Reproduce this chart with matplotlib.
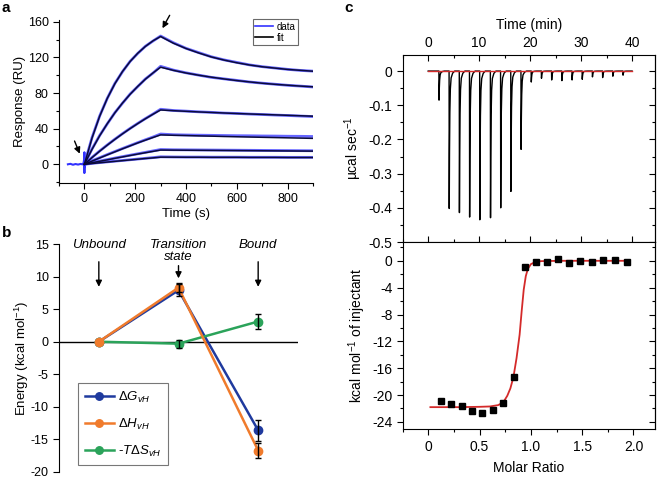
import matplotlib
matplotlib.use("Agg")
import matplotlib.pyplot as plt
from matplotlib.ticker import MultipleLocator
from matplotlib.lines import Line2D

plt.rcParams['font.family'] = ['Liberation Sans', 'DejaVu Sans']
plt.rcParams['axes.unicode_minus'] = False
plt.rcParams['mathtext.fontset'] = 'custom'
plt.rcParams['mathtext.rm'] = 'Liberation Sans'
plt.rcParams['mathtext.it'] = 'Liberation Sans:italic'

# ---------------- Panel a data (SPR sensorgrams) ----------------
t_assoc = [0, 30, 60, 90, 120, 150, 180, 210, 240, 270, 300]
t_dissoc = [300, 350, 400, 450, 500, 550, 600, 650, 700, 750, 800, 850, 900]
fit_assoc = [
    [0, 29.5, 53.9, 74.0, 90.5, 104.2, 115.4, 124.7, 132.3, 138.6, 143.5],
    [0, 16.8, 32.0, 45.6, 57.8, 68.8, 78.6, 87.5, 95.5, 102.6, 109.0],
    [0, 7.5, 14.7, 21.5, 28.0, 34.2, 40.1, 45.7, 51.1, 56.2, 61.0],
    [0, 3.6, 7.1, 10.6, 14.0, 17.4, 20.7, 24.0, 27.1, 30.1, 33.0],
    [0, 1.7, 3.4, 5.0, 6.7, 8.3, 9.9, 11.5, 13.0, 14.5, 16.0],
    [0, 0.85, 1.7, 2.5, 3.3, 4.1, 4.9, 5.7, 6.5, 7.2, 8.0],
]
fit_dissoc = [
    [143.5, 136, 130, 125, 120.5, 117, 114, 111.5, 109.5, 108, 106.5, 105.5, 104.5],
    [109, 105.5, 102.5, 100, 97.8, 95.8, 94, 92.5, 91, 89.8, 88.8, 87.8, 87],
    [61, 60.2, 59.5, 58.8, 58.2, 57.6, 57, 56.5, 56, 55.5, 55, 54.5, 54],
    [33, 32.6, 32.3, 31.9, 31.6, 31.2, 30.9, 30.6, 30.3, 30, 29.7, 29.4, 29.1],
    [16, 15.9, 15.8, 15.7, 15.6, 15.5, 15.4, 15.3, 15.2, 15.1, 15.0, 14.9, 14.8],
    [8, 8, 7.9, 7.9, 7.8, 7.8, 7.8, 7.7, 7.7, 7.7, 7.6, 7.6, 7.6],
]
data_assoc = [
    [0, 30.0, 54.2, 74.0, 90.8, 104.0, 115.6, 124.5, 132.5, 138.4, 144.0],
    [0, 17.2, 32.3, 45.4, 58.0, 68.6, 78.9, 87.3, 95.8, 102.4, 110.0],
    [0, 7.8, 14.9, 21.7, 28.2, 34.4, 40.3, 45.9, 51.3, 56.4, 61.8],
    [0, 3.9, 7.4, 10.9, 14.3, 17.7, 21.0, 24.3, 27.5, 30.6, 34.0],
    [0, 1.9, 3.6, 5.3, 7.0, 8.6, 10.2, 11.8, 13.4, 15.0, 16.6],
    [0, 1.0, 1.9, 2.7, 3.5, 4.3, 5.1, 5.9, 6.7, 7.5, 8.4],
]
data_dissoc = [
    [144.0, 136.5, 130.2, 125.4, 120.7, 117.2, 114.4, 111.6, 109.6, 108.1, 106.6, 105.4, 104.6],
    [110.0, 105.8, 102.7, 100.1, 97.6, 95.9, 94.2, 92.4, 91.1, 89.9, 88.7, 87.8, 86.8],
    [61.8, 60.4, 59.7, 58.9, 58.3, 57.5, 57.1, 56.4, 55.9, 55.3, 54.8, 54.2, 53.6],
    [34.0, 33.2, 32.9, 32.7, 32.5, 32.3, 32.1, 32.0, 31.8, 31.7, 31.5, 31.4, 31.2],
    [16.6, 16.3, 16.2, 16.1, 16.0, 15.9, 15.8, 15.7, 15.6, 15.5, 15.4, 15.3, 15.2],
    [8.4, 8.2, 8.1, 8.1, 8.0, 8.0, 8.0, 7.9, 7.9, 7.9, 7.8, 7.8, 7.8],
]
t_base = [-65, -55, -45, -35, -25, -15, -8, -3, -1, 0, 0, 0, 1, 3]
r_base = [0, 0.5, -0.5, 0.3, -0.3, 0.4, 0, 1.5, 6, 13.5, -9.5, 6, -3, 1]

# ---------------- Panel b data (energy diagram) ----------------
states = ['Unbound', 'Transition\nstate', 'Bound']
dG = [0, 7.9, -13.6]
dG_err = [0, 0.9, 1.6]
dH = [0, 8.3, -16.7]
dH_err = [0, 0.7, 1.1]
TdS = [0, -0.3, 3.1]
TdS_err = [0, 0.6, 1.2]

# ---------------- Panel c data (ITC) ----------------
inj_time = [2.1, 4.1, 6.1, 8.1, 10.1, 12.2, 14.2, 16.2, 18.2, 20.2,
            22.2, 24.2, 26.2, 28.2, 30.2, 32.2, 34.2, 36.2, 38.2]
inj_depth = [-0.085, -0.402, -0.414, -0.427, -0.435, -0.429, -0.400, -0.352, -0.229,
             -0.032, -0.021, -0.026, -0.028, -0.026, -0.024, -0.017, -0.019, -0.015, -0.012]
molar_ratio = [0.124, 0.221, 0.325, 0.423, 0.527, 0.628, 0.728, 0.832, 0.943,
               1.047, 1.154, 1.265, 1.372, 1.48, 1.593, 1.707, 1.821, 1.935]
heat = [-20.87, -21.26, -21.6, -22.3, -22.6, -22.2, -21.2, -17.3, -0.95,
        -0.15, -0.25, 0.25, -0.35, 0.0, -0.15, 0.1, 0.15, -0.2]
fit_x = [0.02, 0.3, 0.5, 0.6, 0.68, 0.73, 0.77, 0.80, 0.83, 0.86, 0.89, 0.91,
         0.93, 0.95, 0.97, 1.0, 1.04, 1.1, 1.3, 1.95]
fit_y = [-21.8, -21.8, -21.75, -21.7, -21.5, -21.1, -20.1, -19.0, -17.3, -14.5, -11.0, -7.5,
         -4.3, -2.3, -1.2, -0.5, -0.2, -0.05, 0, 0]
# peak shape template (offset in min, fraction of depth)
peak_dt = [0, 0.03, 0.08, 0.15, 0.25, 0.4, 0.7, 1.1]
peak_frac = [0, 1.0, 0.6, 0.3, 0.13, 0.05, 0.015, 0]

W, H = 658, 480
fig = plt.figure(figsize=(W / 100, H / 100), dpi=100)


def rect(x0, y0, x1, y1):
    return [x0 / W, 1 - y1 / H, (x1 - x0) / W, (y1 - y0) / H]


# ================= Panel a =================
axa = fig.add_axes(rect(59, 20, 313, 183))
data_col = '#3333ff'
for i in range(6):
    axa.plot(t_assoc + t_dissoc[1:], data_assoc[i] + data_dissoc[i][1:],
             color=data_col, lw=2.0, alpha=0.75, zorder=2)
axa.plot(t_base, r_base, color=data_col, lw=1.5, zorder=2)
for i in range(6):
    axa.plot(t_assoc + t_dissoc[1:], fit_assoc[i] + fit_dissoc[i][1:],
             color='#0a0a3a', lw=1.1, zorder=3)
axa.set_xlim(-100, 900)
axa.set_ylim(-21, 162)
axa.spines['top'].set_visible(False)
axa.spines['right'].set_visible(False)
axa.xaxis.set_major_locator(MultipleLocator(200))
axa.xaxis.set_minor_locator(MultipleLocator(100))
axa.yaxis.set_major_locator(MultipleLocator(40))
axa.yaxis.set_minor_locator(MultipleLocator(20))
axa.tick_params(which='both', direction='out', labelsize=9, width=0.8)
axa.tick_params(which='major', length=4)
axa.tick_params(which='minor', length=2.5)
axa.set_xticks([0, 200, 400, 600, 800])
axa.set_xlabel('Time (s)', fontsize=9.5, labelpad=2)
axa.set_ylabel('Response (RU)', fontsize=9.5, labelpad=1)
axa.annotate('', xy=(302, 150), xytext=(341, 170), annotation_clip=False,
             arrowprops=dict(arrowstyle='-|>', color='black', lw=1, mutation_scale=9))
axa.annotate('', xy=(-14, 9), xytext=(-43, 29), annotation_clip=False,
             arrowprops=dict(arrowstyle='-|>', color='black', lw=1, mutation_scale=9))
leg_a = axa.legend(handles=[Line2D([], [], color=data_col, lw=1.2, label='data'),
                            Line2D([], [], color='black', lw=1.2, label='fit')],
                   loc='upper right', bbox_to_anchor=(0.94, 1.005), fontsize=7,
                   frameon=True, fancybox=False, edgecolor='#444444',
                   handlelength=1.8, handletextpad=0.4, borderpad=0.25, labelspacing=0.1,
                   borderaxespad=0)
leg_a.get_frame().set_linewidth(0.8)

# ================= Panel b =================
axb = fig.add_axes(rect(59, 244, 298, 472))
xs = [1, 2, 3]
c_g, c_h, c_s = '#1f3a9e', '#f07b2c', '#2ba35a'
axb.axhline(0, color='black', lw=1, zorder=1)
axb.plot(xs, dG, color=c_g, lw=1.8, marker='o', ms=6, zorder=3,
         label=r'$\mathit{\Delta G}_{\mathit{vH}}$')
axb.plot(xs, dH, color=c_h, lw=1.8, marker='o', ms=6, zorder=4,
         label=r'$\mathit{\Delta H}_{\mathit{vH}}$')
axb.plot(xs, TdS, color=c_s, lw=1.8, marker='o', ms=6, zorder=3,
         label='-' + r'$\mathit{T\Delta S}_{\mathit{vH}}$')
for vals, errs in [(dG, dG_err), (dH, dH_err), (TdS, TdS_err)]:
    axb.errorbar(xs[1:], vals[1:], yerr=errs[1:], fmt='none', ecolor='black',
                 elinewidth=1, capsize=2.5, capthick=1, zorder=5)
axb.set_xlim(0.5, 3.5)
axb.set_ylim(-20, 15)
axb.spines['top'].set_visible(False)
axb.spines['right'].set_visible(False)
axb.spines['bottom'].set_visible(False)
axb.set_xticks([])
axb.yaxis.set_major_locator(MultipleLocator(5))
axb.tick_params(axis='y', direction='out', labelsize=9, length=4, width=0.8)
axb.set_ylabel('Energy (kcal mol$^{-1}$)', fontsize=9.5, labelpad=0)
for x, lab in zip(xs, states):
    axb.text(x, 15.7, lab, ha='center', va='top', fontsize=9.5, style='italic',
             linespacing=0.9)
axb.annotate('', xy=(1, 8.0), xytext=(1, 12.7),
             arrowprops=dict(arrowstyle='-|>', color='black', lw=1, mutation_scale=9))
axb.annotate('', xy=(2, 9.3), xytext=(2, 12.1),
             arrowprops=dict(arrowstyle='-|>', color='black', lw=1, mutation_scale=9))
axb.annotate('', xy=(3, 8.0), xytext=(3, 12.7),
             arrowprops=dict(arrowstyle='-|>', color='black', lw=1, mutation_scale=9))
leg_b = axb.legend(loc='lower left', bbox_to_anchor=(0.08, 0.03), fontsize=9.5,
                   frameon=True, fancybox=False, edgecolor='#555555',
                   handlelength=2.2, handletextpad=0.3, borderpad=0.5, labelspacing=0.9,
                   borderaxespad=0, markerscale=0.9)
leg_b.get_frame().set_linewidth(0.8)

# ================= Panel c top =================
axc1 = fig.add_axes(rect(402.7, 55, 655, 242))
trace_t = [0.0]
trace_y = [0.0]
for t0, d in zip(inj_time, inj_depth):
    for dt, f in zip(peak_dt, peak_frac):
        trace_t.append(t0 + dt)
        trace_y.append(d * f)
trace_t.append(40.0)
trace_y.append(0.0)
axc1.plot(trace_t, trace_y, color='black', lw=1.0, zorder=2)
axc1.plot([0, 40], [0, 0], color='#d42a2a', lw=1.0, zorder=3)
axc1.set_xlim(-5, 44.5)
axc1.set_ylim(-0.5, 0.047)
axc1.xaxis.set_major_locator(MultipleLocator(10))
axc1.xaxis.set_minor_locator(MultipleLocator(5))
axc1.yaxis.set_major_locator(MultipleLocator(0.1))
axc1.yaxis.set_minor_locator(MultipleLocator(0.05))
axc1.set_xticks([0, 10, 20, 30, 40])
axc1.tick_params(axis='x', which='both', top=True, bottom=True, labeltop=True,
                 labelbottom=False, direction='in', labelsize=10)
axc1.tick_params(axis='y', which='both', direction='out', labelsize=10)
axc1.tick_params(which='major', length=4, width=0.8)
axc1.tick_params(which='minor', length=2.5, width=0.8)
axc1.set_yticks([0, -0.1, -0.2, -0.3, -0.4, -0.5])
axc1.set_yticklabels(['0', '-0.1', '-0.2', '-0.3', '-0.4', '-0.5'])
sec1 = axc1.secondary_yaxis('right')
sec1.yaxis.set_major_locator(MultipleLocator(0.1))
sec1.yaxis.set_minor_locator(MultipleLocator(0.05))
sec1.tick_params(which='both', direction='in', labelright=False, width=0.8)
sec1.tick_params(which='major', length=4)
sec1.tick_params(which='minor', length=2.5)
axc1.xaxis.set_label_position('top')
axc1.set_xlabel('Time (min)', fontsize=10, labelpad=5)
axc1.set_ylabel('µcal sec$^{-1}$', fontsize=10, labelpad=3)

# ================= Panel c bottom =================
axc2 = fig.add_axes(rect(402.7, 242, 655, 429.3))
axc2.plot(fit_x, fit_y, color='#d42a2a', lw=1.3, zorder=2)
axc2.plot(molar_ratio, heat, ls='none', marker='s', ms=5, color='black', zorder=3)
axc2.set_xlim(-0.25, 2.21)
axc2.set_ylim(-25.1, 2.8)
axc2.xaxis.set_major_locator(MultipleLocator(0.5))
axc2.xaxis.set_minor_locator(MultipleLocator(0.25))
axc2.yaxis.set_major_locator(MultipleLocator(4))
axc2.yaxis.set_minor_locator(MultipleLocator(2))
axc2.set_xticks([0, 0.5, 1.0, 1.5, 2.0])
axc2.set_xticklabels(['0', '0.5', '1.0', '1.5', '2.0'])
axc2.set_yticks([0, -4, -8, -12, -16, -20, -24])
axc2.tick_params(axis='both', which='both', direction='out', labelsize=10, width=0.8)
axc2.tick_params(which='major', length=4)
axc2.tick_params(which='minor', length=2.5)
sec2 = axc2.secondary_yaxis('right')
sec2.yaxis.set_major_locator(MultipleLocator(4))
sec2.yaxis.set_minor_locator(MultipleLocator(2))
sec2.tick_params(which='both', direction='in', labelright=False, width=0.8)
sec2.tick_params(which='major', length=4)
sec2.tick_params(which='minor', length=2.5)
axc2.set_xlabel('Molar Ratio', fontsize=10, labelpad=5)
axc2.set_ylabel('kcal mol$^{-1}$ of injectant', fontsize=10, labelpad=3)

# panel letters
fig.text(2 / W, 1 - 1 / H, 'a', fontsize=11, fontweight='bold', va='top', ha='left')
fig.text(2 / W, 1 - 226 / H, 'b', fontsize=11, fontweight='bold', va='top', ha='left')
fig.text(344 / W, 1 - 1 / H, 'c', fontsize=11, fontweight='bold', va='top', ha='left')

fig.savefig('out.png', dpi=100)
